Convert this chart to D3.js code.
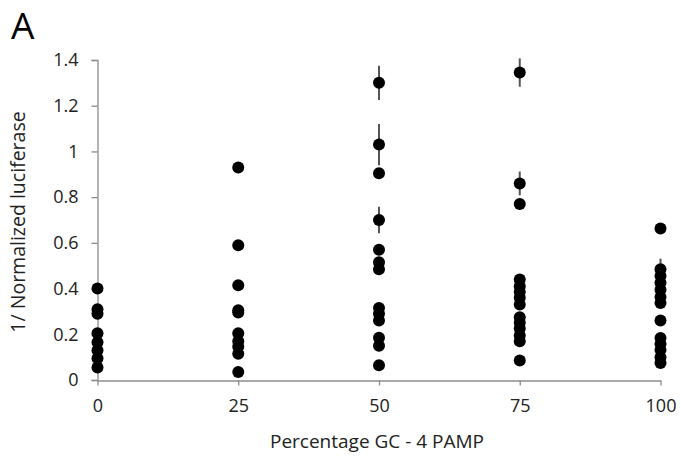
<!DOCTYPE html>
<html><head><meta charset="utf-8">
<script src="https://cdn.jsdelivr.net/npm/d3@7"></script>
<style>body{margin:0;background:#fff;} text{font-family:"Open Sans",sans-serif;}</style>
</head><body>
<svg id="c" width="681" height="464"></svg>
<script>
const gcLevels = [0, 25, 50, 75, 100];
const values0 = [0.40, 0.31, 0.29, 0.205, 0.165, 0.13, 0.095, 0.055];
const values25 = [0.93, 0.59, 0.415, 0.305, 0.295, 0.205, 0.17, 0.145, 0.115, 0.035];
const values50 = [1.30, 1.03, 0.905, 0.70, 0.57, 0.515, 0.485, 0.315, 0.29, 0.26, 0.185, 0.15, 0.065];
const values75 = [1.345, 0.86, 0.77, 0.44, 0.41, 0.385, 0.36, 0.33, 0.275, 0.25, 0.225, 0.195, 0.17, 0.085];
const values100 = [0.663, 0.485, 0.455, 0.425, 0.395, 0.363, 0.337, 0.26, 0.184, 0.157, 0.131, 0.10, 0.074];
const errGC = [50, 50, 50, 75, 75, 100];
const errMean = [1.30, 1.03, 0.70, 1.345, 0.86, 0.485];
const errSize = [0.075, 0.09, 0.058, 0.062, 0.052, 0.046];
const yTicks = [0, 0.2, 0.4, 0.6, 0.8, 1, 1.2, 1.4];
const xTicks = [0, 25, 50, 75, 100];

const seriesValues = [values0, values25, values50, values75, values100];
const points = [];
gcLevels.forEach((g, i) => seriesValues[i].forEach(v => points.push({x: g, y: v})));
const errs = errGC.map((g, i) => ({x: g, y: errMean[i], e: errSize[i]}));

const svg = d3.select("#c");
const x = d3.scaleLinear().domain([0, 100]).range([97.5, 660.5]);
const y = d3.scaleLinear().domain([0, 1.4]).range([380, 60]);
const axisCol = "#8c8c8c";

const gy = svg.append("g").attr("transform", "translate(97.5,0)")
  .call(d3.axisLeft(y).tickValues(yTicks).tickSize(6).tickPadding(13)
    .tickFormat(d => d3.format("~g")(d)));
const gx = svg.append("g").attr("transform", "translate(0,380.5)")
  .call(d3.axisBottom(x).tickValues(xTicks).tickSize(5).tickPadding(14).tickSizeOuter(0));
[gy, gx].forEach(g => {
  g.select(".domain").attr("stroke", axisCol).attr("stroke-width", 1.3);
  g.selectAll(".tick line").attr("stroke", axisCol).attr("stroke-width", 1.3);
  g.selectAll(".tick text").attr("fill", "#222").style("font-size", "18px")
    .style("font-family", "'Open Sans', sans-serif");
});

svg.append("g").selectAll("line").data(errs).join("line")
  .attr("x1", d => x(d.x)).attr("x2", d => x(d.x))
  .attr("y1", d => y(d.y + d.e)).attr("y2", d => y(d.y - d.e))
  .attr("stroke", "#555").attr("stroke-width", 2);

svg.append("g").selectAll("circle").data(points).join("circle")
  .attr("cx", d => x(d.x)).attr("cy", d => y(d.y)).attr("r", 6).attr("fill", "#000");

svg.append("text").attr("x", 377).attr("y", 448).attr("text-anchor", "middle")
  .style("font-size", "19px").attr("fill", "#222").text("Percentage GC - 4 PAMP");
svg.append("text").attr("transform", "translate(25,222) rotate(-90)").attr("text-anchor", "middle")
  .style("font-size", "19.5px").attr("fill", "#222").text("1/ Normalized luciferase");
svg.append("text").attr("x", 11).attr("y", 39).style("font-size", "37px").attr("fill", "#000").text("A");
</script>
</body></html>
